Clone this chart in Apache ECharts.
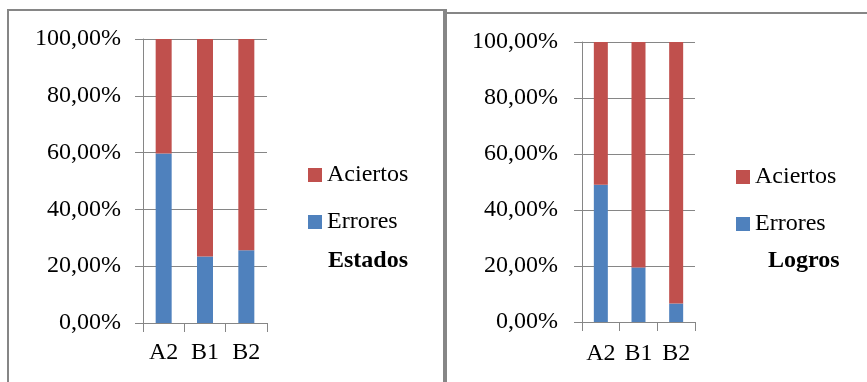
<!DOCTYPE html>
<html>
<head>
<meta charset="utf-8">
<script src="https://cdn.jsdelivr.net/npm/echarts@6/dist/echarts.min.js"></script>
<style>
  html, body { margin: 0; padding: 0; background: #fff; }
  #chart { width: 867px; height: 382px; }
</style>
</head>
<body>
<div id="chart"></div>
<script>
// categorias y valores (%)
const categorias = ["A2", "B1", "B2"];
const estadosErrores = [59.7, 23.4, 25.6];
const estadosAciertos = [40.3, 76.6, 74.4];
const logrosErrores = [49.0, 19.5, 6.6];
const logrosAciertos = [51.0, 80.5, 93.4];
const yTicks = [0, 20, 40, 60, 80, 100];

const colorErrores = "#4F81BD";
const colorAciertos = "#C0504D";
const lineGray = "#868686";
const fontFam = "Liberation Serif";
const fontSz = 24;

const chart = echarts.init(document.getElementById("chart"));

function pct(v) {
  return v.toFixed(2).replace(".", ",") + "%";
}

function makeY(idx, margin) {
  return {
    type: "value",
    gridIndex: idx,
    min: yTicks[0],
    max: yTicks[yTicks.length - 1],
    interval: 20,
    axisLine: { show: true, lineStyle: { color: lineGray } },
    axisTick: { show: true, length: 8, lineStyle: { color: lineGray } },
    splitLine: { show: true, lineStyle: { color: lineGray, width: 1 } },
    axisLabel: {
      margin: margin,
      color: "#000",
      fontFamily: fontFam,
      fontSize: fontSz,
      formatter: pct,
    },
  };
}

function makeX(idx, margin) {
  return {
    type: "category",
    gridIndex: idx,
    data: categorias,
    boundaryGap: true,
    axisLine: { show: true, lineStyle: { color: lineGray } },
    axisTick: { show: true, length: 9, alignWithLabel: false, lineStyle: { color: lineGray } },
    axisLabel: {
      interval: 0,
      hideOverlap: false,
      margin: margin,
      color: "#000",
      fontFamily: fontFam,
      fontSize: fontSz,
    },
  };
}

function legendAt(left, top) {
  return {
    orient: "vertical",
    left: left,
    top: top,
    padding: 0,
    itemWidth: 14,
    itemHeight: 14,
    itemGap: 21,
    icon: "rect",
    data: ["Aciertos", "Errores"],
    textStyle: { color: "#000", fontFamily: fontFam, fontSize: fontSz, lineHeight: 26 },
  };
}

chart.setOption({
  animation: false,
  backgroundColor: "#fff",
  grid: [
    { left: 143, top: 39, width: 124, height: 284 },
    { left: 582, top: 42, width: 113, height: 280 },
  ],
  xAxis: [makeX(0, 18), makeX(1, 20)],
  yAxis: [makeY(0, 22), makeY(1, 24)],
  legend: [legendAt(308, 162), legendAt(736, 164)],
  title: [
    {
      text: "Estados",
      left: 328,
      top: 249,
      padding: 0,
      textStyle: { color: "#000", fontFamily: fontFam, fontSize: fontSz, fontWeight: "bold" },
    },
    {
      text: "Logros",
      left: 768,
      top: 249,
      padding: 0,
      textStyle: { color: "#000", fontFamily: fontFam, fontSize: fontSz, fontWeight: "bold" },
    },
  ],
  graphic: [
    // marcos de los dos paneles
    { type: "line", shape: { x1: 8, y1: 10, x2: 8, y2: 382 }, style: { stroke: lineGray, lineWidth: 2 } },
    { type: "line", shape: { x1: 7, y1: 10, x2: 445, y2: 10 }, style: { stroke: lineGray, lineWidth: 2 } },
    { type: "line", shape: { x1: 445, y1: 9, x2: 445, y2: 382 }, style: { stroke: lineGray, lineWidth: 4 } },
    { type: "line", shape: { x1: 445, y1: 13, x2: 867, y2: 13 }, style: { stroke: lineGray, lineWidth: 2 } },
  ],
  series: [
    {
      name: "Errores",
      type: "bar",
      stack: "e",
      xAxisIndex: 0,
      yAxisIndex: 0,
      barWidth: 16,
      itemStyle: { color: colorErrores },
      data: estadosErrores,
    },
    {
      name: "Aciertos",
      type: "bar",
      stack: "e",
      xAxisIndex: 0,
      yAxisIndex: 0,
      barWidth: 16,
      itemStyle: { color: colorAciertos },
      data: estadosAciertos,
    },
    {
      name: "Errores",
      type: "bar",
      stack: "l",
      xAxisIndex: 1,
      yAxisIndex: 1,
      barWidth: 14,
      itemStyle: { color: colorErrores },
      data: logrosErrores,
    },
    {
      name: "Aciertos",
      type: "bar",
      stack: "l",
      xAxisIndex: 1,
      yAxisIndex: 1,
      barWidth: 14,
      itemStyle: { color: colorAciertos },
      data: logrosAciertos,
    },
  ],
});
</script>
</body>
</html>
